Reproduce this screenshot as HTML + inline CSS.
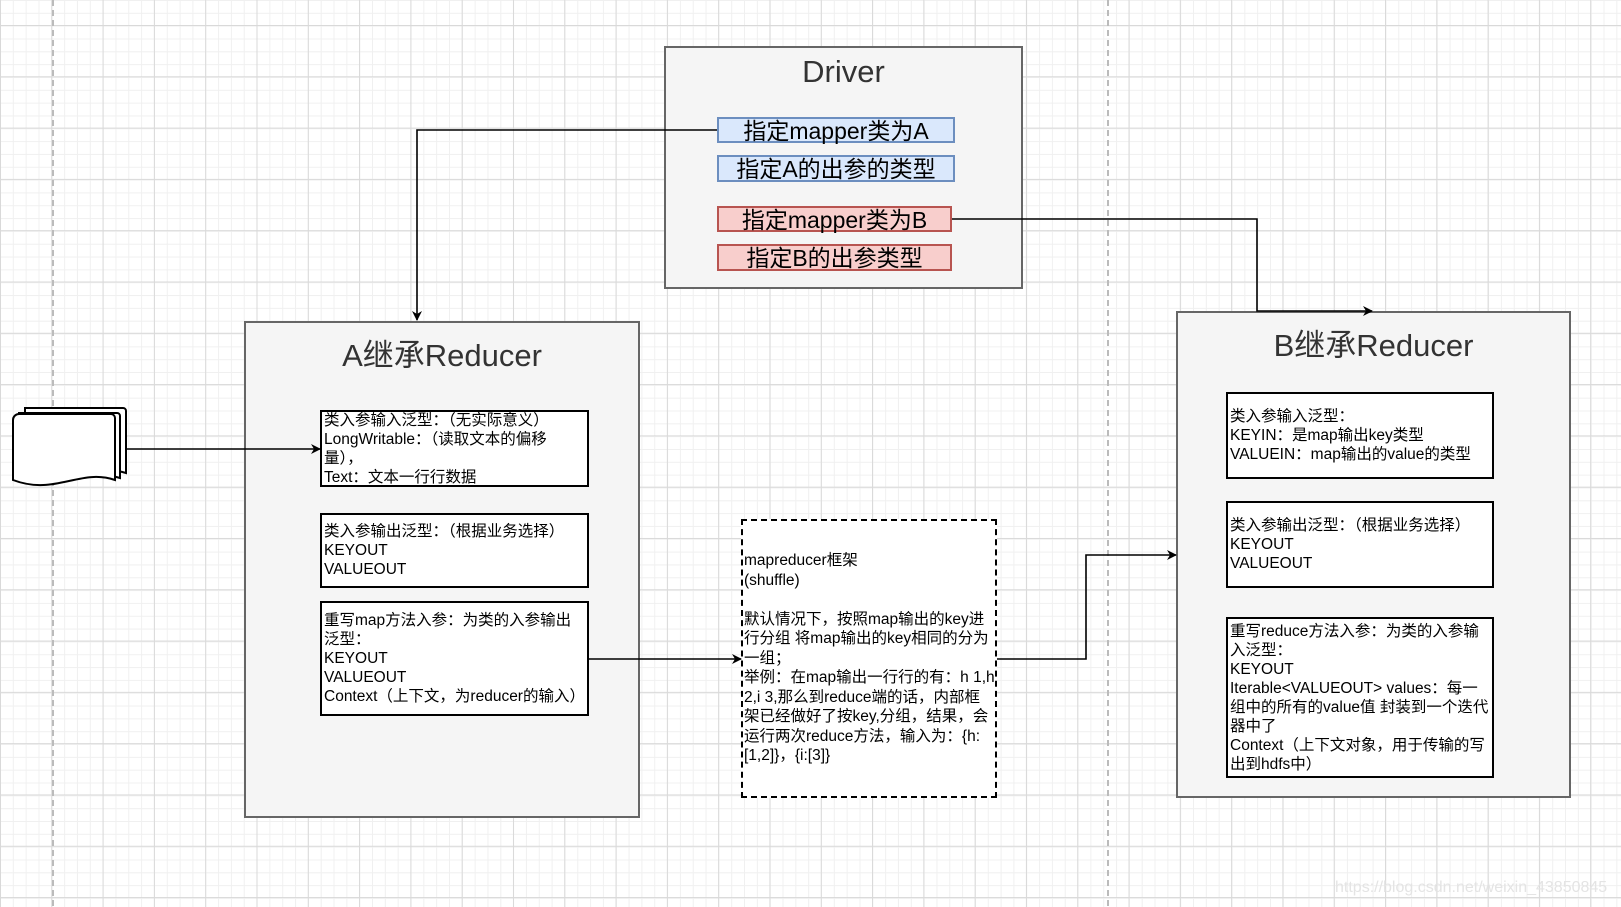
<!DOCTYPE html>
<html><head><meta charset="utf-8"><style>
body{margin:0;width:1621px;height:907px;overflow:hidden;position:relative;font-family:"Liberation Sans","Noto Sans CJK SC",sans-serif;
background-color:#fff;
background-image:linear-gradient(#d9d9d9 1px,transparent 1px),linear-gradient(90deg,#d9d9d9 1px,transparent 1px),linear-gradient(#f0f0f0 1px,transparent 1px),linear-gradient(90deg,#f0f0f0 1px,transparent 1px);
background-size:51.3px 51.3px,51.3px 51.3px,12.83px 12.83px,12.83px 12.83px;
background-position:0 25px,0 0,0 0,0 0;}
.box{position:absolute;background:#f5f5f5;border:2px solid #666;box-sizing:border-box}
.t{position:absolute;color:#333;font-size:31px;text-align:center}
.in{position:absolute;background:#fff;border:2px solid #000;box-sizing:border-box;font-size:15.5px;line-height:19px;color:#000;padding:0 2px;overflow:hidden;display:flex;flex-direction:column;justify-content:center}
.d{position:absolute;box-sizing:border-box;font-size:23px;text-align:center;line-height:24px;color:#000}
.bl{background:#dae8fc;border:2px solid #6c8ebf}
.rd{background:#f8cecc;border:2px solid #b85450}
</style></head><body>
<svg width="1621" height="907" style="position:absolute;left:0;top:0">
<line x1="53" y1="0" x2="53" y2="907" stroke="#bbb" stroke-width="2" stroke-dasharray="6,4"/>
<line x1="1108" y1="0" x2="1108" y2="907" stroke="#bbb" stroke-width="2" stroke-dasharray="6,4"/>
</svg>
<div class="box" style="left:664px;top:46px;width:359px;height:243px"></div>
<div class="t" style="left:664px;top:54px;width:359px">Driver</div>
<div class="d bl" style="left:717px;top:117px;width:238px;height:26px">指定mapper类为A</div>
<div class="d bl" style="left:717px;top:155px;width:238px;height:27px">指定A的出参的类型</div>
<div class="d rd" style="left:717px;top:206px;width:235px;height:26px">指定mapper类为B</div>
<div class="d rd" style="left:717px;top:244px;width:235px;height:27px">指定B的出参类型</div>

<div class="box" style="left:244px;top:321px;width:396px;height:497px"></div>
<div class="t" style="left:244px;top:330px;width:396px">A继承Reducer</div>
<div class="in" style="left:320px;top:410px;width:269px;height:77px">类入参输入泛型：（无实际意义）<br>LongWritable：（读取文本的偏移量），<br>Text：文本一行行数据</div>
<div class="in" style="left:320px;top:513px;width:269px;height:75px">类入参输出泛型：（根据业务选择）<br>KEYOUT<br>VALUEOUT</div>
<div class="in" style="left:320px;top:601px;width:269px;height:115px">重写map方法入参：为类的入参输出泛型：<br>KEYOUT<br>VALUEOUT<br>Context（上下文，为reducer的输入）</div>

<div style="position:absolute;left:741px;top:519px;width:256px;height:279px;border:2px dashed #000;box-sizing:border-box;background:#fff;font-size:15.5px;line-height:19.5px;padding:30px 0 0 1px">mapreducer框架<br>(shuffle)<br><br>默认情况下，按照map输出的key进行分组 将map输出的key相同的分为一组；<br>举例：在map输出一行行的有：h 1,h 2,i 3,那么到reduce端的话，内部框架已经做好了按key,分组，结果，会运行两次reduce方法，输入为：{h:[1,2]}，{i:[3]}</div>

<div class="box" style="left:1176px;top:311px;width:395px;height:487px"></div>
<div class="t" style="left:1176px;top:320px;width:395px">B继承Reducer</div>
<div class="in" style="left:1226px;top:392px;width:268px;height:87px">类入参输入泛型：<br>KEYIN：是map输出key类型<br>VALUEIN：map输出的value的类型</div>
<div class="in" style="left:1226px;top:501px;width:268px;height:87px">类入参输出泛型：（根据业务选择）<br>KEYOUT<br>VALUEOUT</div>
<div class="in" style="left:1226px;top:617px;width:268px;height:161px">重写reduce方法入参：为类的入参输入泛型：<br>KEYOUT<br>Iterable&lt;VALUEOUT&gt; values：每一组中的所有的value值 封装到一个迭代器中了<br>Context（上下文对象，用于传输的写出到hdfs中）</div>

<svg width="1621" height="907" style="position:absolute;left:0;top:0">
<defs><marker id="a" markerWidth="10" markerHeight="10" refX="9" refY="5" orient="auto" markerUnits="userSpaceOnUse"><path d="M0,0 L10,5 L0,10 L3,5 z" fill="#000"/></marker></defs>
<g fill="none" stroke="#000" stroke-width="1.6">
<polyline points="717,130 417,130 417,320" marker-end="url(#a)"/>
<polyline points="952,219 1257,219 1257,311 1372,311" marker-end="url(#a)"/>
<line x1="127" y1="449" x2="320" y2="449" marker-end="url(#a)"/>
<line x1="589" y1="659" x2="741" y2="659" marker-end="url(#a)"/>
<polyline points="997,659 1086,659 1086,555 1176,555" marker-end="url(#a)"/>
</g>
<g fill="#fff" stroke="#000" stroke-width="2">
<path d="M25,408 h98 a3,3 0 0 1 3,3 v62 c-30,-10 -60,12 -101,0 z"/>
<path d="M19,413 h98 a3,3 0 0 1 3,3 v62 c-30,-10 -60,12 -101,0 z"/>
<path d="M13,420 a6,6 0 0 1 6,-6 h92 a4,4 0 0 1 4,4 v62 c-35,-12 -60,16 -102,0 z"/>
</g>
<text x="1335" y="892" font-size="16" fill="#e4e4e4" font-family="Liberation Sans">https://blog.csdn.net/weixin_43850845</text>
</svg>
</body></html>
